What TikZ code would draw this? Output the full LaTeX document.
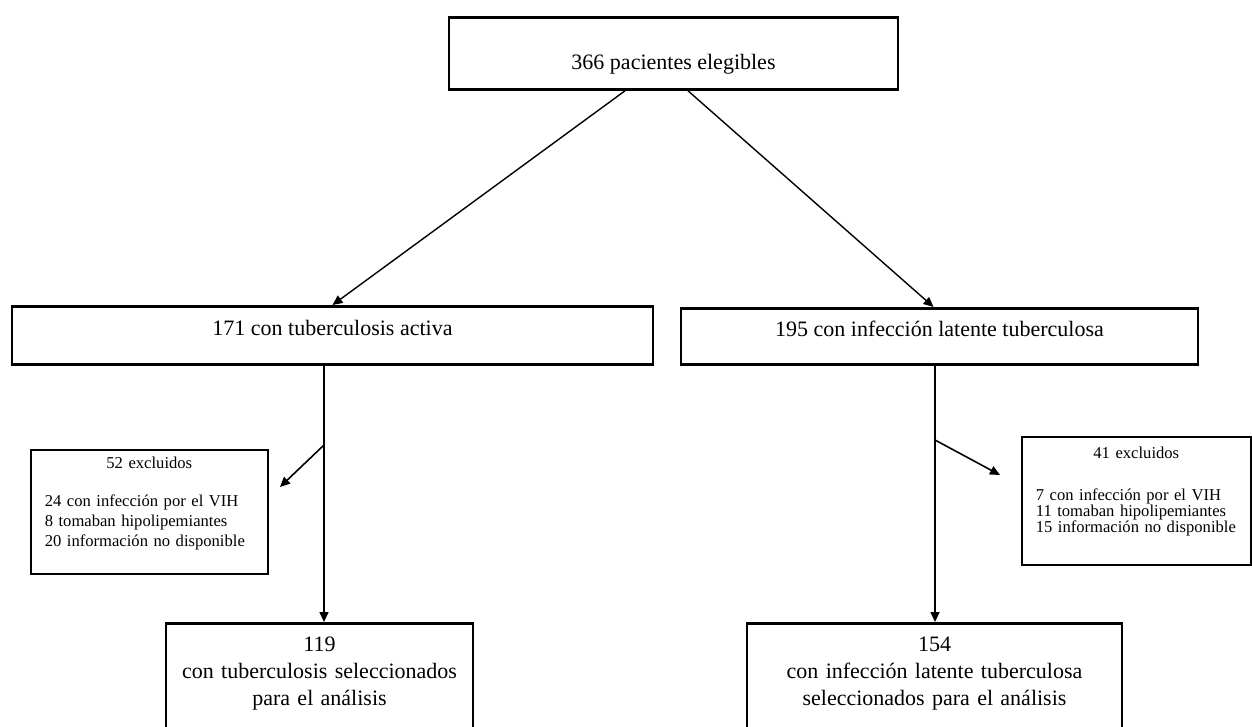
\documentclass[tikz,border=0pt]{standalone}
\usepackage{fontspec}
\setmainfont{Liberation Serif}
\usetikzlibrary{arrows.meta}

\begin{document}
\begin{tikzpicture}[x=0.5pt,y=-0.5pt,
    mainbox/.style={draw,line width=1.4pt,inner sep=0pt,font=\fontsize{11}{13.5}\selectfont},
    exclbox/.style={draw,line width=0.8pt,inner ysep=0pt,inner xsep=7pt,align=left,anchor=north west},
    flow/.style={line width=0.8pt,-{Triangle[length=5pt,width=4.5pt]}}]
  \useasboundingbox (0,0) rectangle (1252,727);
  \clip (0,0) rectangle (1252,727);
  %% boxes
  \node[mainbox,anchor=north,minimum width=224.5pt,text height=26pt,text depth=10pt]
    (elig) at (673.5,16) {366 pacientes elegibles};
  \node[mainbox,anchor=north,minimum width=320.5pt,text height=14.5pt,text depth=14.5pt]
    (act) at (332.5,305) {171 con tuberculosis activa};
  \node[mainbox,anchor=north,minimum width=258.5pt,text height=14pt,text depth=14pt]
    (lat) at (939.5,307) {195 con infección latente tuberculosa};
  \node[mainbox,anchor=north,align=center,text width=153.5pt,text height=14pt,text depth=70pt]
    (selA) at (319.5,622) {119\\con tuberculosis seleccionados\\para el análisis};
  \node[mainbox,anchor=north,align=center,text width=187.5pt,text height=14pt,text depth=70pt]
    (selB) at (934.5,622) {154\\con infección latente tuberculosa\\seleccionados para el análisis};
  %% excluded
  \node[exclbox,text width=104.5pt,text height=9.5pt,text depth=52.5pt,
    font=\fontsize{8.3}{10}\selectfont] (exA) at (30,449)
    {\null\hfill 52 excluidos\hfill\null\\[9pt]
     24 con infección por el VIH\\
     8 tomaban hipolipemiantes\\
     20 información no disponible};
  \node[exclbox,text width=100.5pt,text height=11pt,text depth=53pt,
    font=\fontsize{8.3}{8}\selectfont] (exB) at (1021,436)
    {\null\hfill 41 excluidos\hfill\null\\[13pt]
     7 con infección por el VIH\\
     11 tomaban hipolipemiantes\\
     15 información no disponible};
  %% branch points
  \coordinate (brA) at (324,445);
  \coordinate (tipA) at (280,487);
  \coordinate (brB) at (935,440);
  \coordinate (tipB) at (1000,475);
  %% arrows
  \draw[flow,line width=0.7pt] ([xshift=-24.25pt]elig.south) -- (act.north);
  \draw[flow,line width=0.7pt] ([xshift=7.25pt]elig.south) -- ([xshift=-3pt]lat.north);
  \draw[flow] (act.south -| brA) -- (brA |- selA.north);
  \draw[flow] (brA) -- (tipA);
  \draw[flow] (lat.south -| brB) -- (brB |- selB.north);
  \draw[flow] (brB) -- (tipB);
\end{tikzpicture}
\end{document}
